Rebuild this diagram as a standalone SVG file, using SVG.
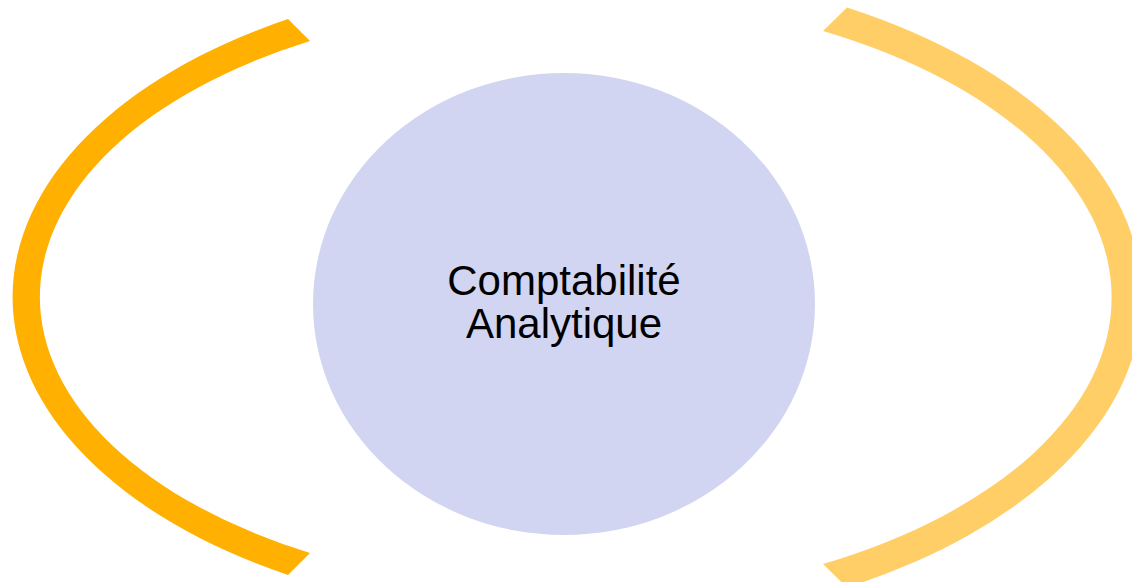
<svg xmlns="http://www.w3.org/2000/svg" width="1132" height="582" viewBox="0 0 1132 582">
<style>
.lbl{font-family:"Liberation Sans",Arial,sans-serif;font-size:42px;fill:#000;text-anchor:middle}
</style>
<rect width="1132" height="582" fill="#fff"/>
<g id="arc-left">
<path d="M288,19 A556,322 0 0 0 288,575 L310,553 A526,293 0 0 1 310,41 Z" fill="#FFB000"/>
</g>
<g id="arc-right">
<path d="M847,7.5 A575,332 0 0 1 847,587.5 L823,564 A545,302 0 0 0 823,31 Z" fill="#FFCE66"/>
</g>
<g id="center">
<ellipse cx="564" cy="304" rx="251" ry="231" fill="#D1D5F2"/>
<text class="lbl" x="564" y="295">Comptabilité</text>
<text class="lbl" x="564" y="338">Analytique</text>
</g>
<g id="connectors"/>
</svg>
